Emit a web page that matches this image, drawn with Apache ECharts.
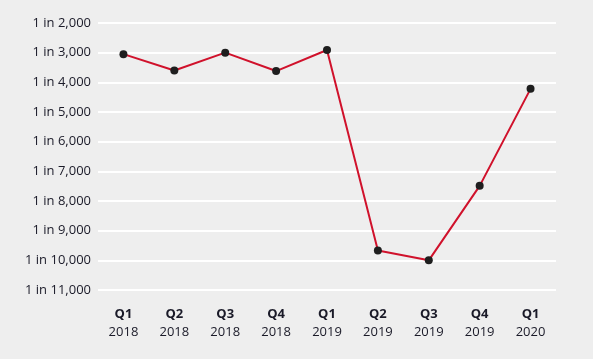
<!DOCTYPE html>
<html><head><meta charset="utf-8">
<script src="https://cdn.jsdelivr.net/npm/echarts@6/dist/echarts.min.js"></script>
<style>html,body{margin:0;padding:0;background:#eeeeee;}#c{width:593px;height:359px;}</style>
</head><body><div id="c"></div>
<script>
const quarters = ['Q1','Q2','Q3','Q4','Q1','Q2','Q3','Q4','Q1'];
const years = ['2018','2018','2018','2018','2019','2019','2019','2019','2020'];
const values = [3050, 3600, 3000, 3620, 2910, 9670, 10000, 7490, 4220];
const yTickLabels = ['1 in 2,000','1 in 3,000','1 in 4,000','1 in 5,000','1 in 6,000','1 in 7,000','1 in 8,000','1 in 9,000','1 in 10,000','1 in 11,000'];
const yMin = 2000, yMax = 11000, yStep = 1000;

const cats = quarters.map((q,i)=>q+'\n'+years[i]);
const chart = echarts.init(document.getElementById('c'));
const FONT = '"Open Sans", sans-serif';
chart.setOption({
  backgroundColor:'#eeeeee',
  animation:false,
  grid:{left:98,right:37,top:23,bottom:69},
  xAxis:{type:'category',data:cats,boundaryGap:true,
    axisLine:{show:false},axisTick:{show:false},
    axisLabel:{interval:0,margin:15,fontFamily:FONT,fontSize:13,color:'#1a1a28',lineHeight:18,
      formatter:(v)=>{const p=v.split('\n');return '{b|'+p[0]+'}\n{n|'+p[1]+'}';},
      rich:{b:{fontWeight:'bold',fontSize:13,color:'#1a1a28',fontFamily:FONT,lineHeight:18},
            n:{fontSize:13,color:'#1a1a28',fontFamily:FONT,lineHeight:18}}}},
  yAxis:{type:'value',inverse:true,min:yMin,max:yMax,interval:yStep,
    axisLine:{show:false},axisTick:{show:false},
    splitLine:{lineStyle:{color:'#ffffff',width:2}},
    axisLabel:{margin:7,fontFamily:FONT,fontSize:13,color:'#1a1a28',
      formatter:(v)=>yTickLabels[Math.round((v-yMin)/yStep)]}},
  series:[{type:'line',data:values,symbol:'circle',symbolSize:8,
    lineStyle:{color:'#d0112b',width:2},
    itemStyle:{color:'#1e1e1e'}}]
});
</script></body></html>
